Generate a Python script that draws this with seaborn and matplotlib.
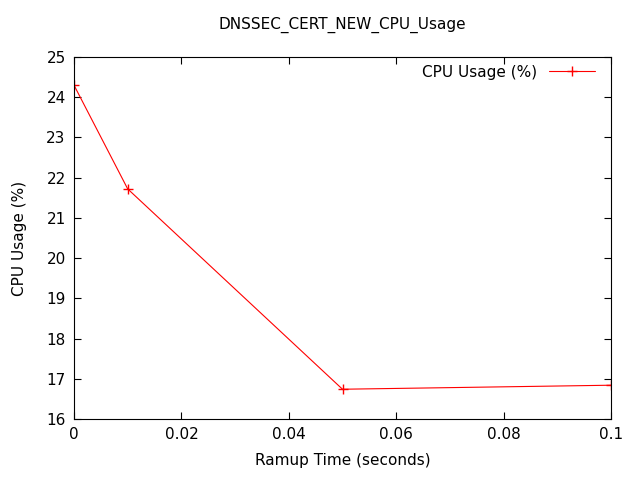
import numpy as np
import pandas as pd
import matplotlib
matplotlib.use('Agg')
import matplotlib.pyplot as plt
import seaborn as sns

ramp_time = [0.0, 0.01, 0.05, 0.1]
cpu_usage = [24.30, 21.72, 16.74, 16.84]

df = pd.DataFrame({'Ramup Time (seconds)': ramp_time, 'CPU Usage (%)': cpu_usage})

sns.set_style('ticks')
plt.rcParams['font.family'] = ['DejaVu Sans']
plt.rcParams['text.color'] = 'black'
plt.rcParams['axes.labelcolor'] = 'black'
plt.rcParams['xtick.color'] = 'black'
plt.rcParams['ytick.color'] = 'black'

fig = plt.figure(figsize=(6.4, 4.8), dpi=100)
ax = fig.add_axes([74 / 640, 1 - 419 / 480, (611 - 74) / 640, (419 - 57) / 480])

sns.lineplot(data=df, x='Ramup Time (seconds)', y='CPU Usage (%)', ax=ax,
             color='red', linewidth=0.8, marker='+', markersize=7,
             markeredgewidth=1, markeredgecolor='red', label='CPU Usage (%)')

ax.set_xlim(0, 0.1)
ax.set_ylim(16, 25)
ax.set_xticks(np.arange(0, 0.101, 0.02))
ax.set_xticklabels(['0', '0.02', '0.04', '0.06', '0.08', '0.1'])
ax.set_yticks(np.arange(16, 26, 1))
ax.tick_params(direction='in', top=True, right=True, labelsize=11, length=5, pad=6)
for s in ax.spines.values():
    s.set_linewidth(0.8)
    s.set_color('black')
ax.set_title('DNSSEC_CERT_NEW_CPU_Usage', fontsize=11, pad=20)
ax.set_xlabel('Ramup Time (seconds)', fontsize=11, labelpad=8)
ax.set_ylabel('CPU Usage (%)', fontsize=11, labelpad=14)
ax.legend(loc='upper right', frameon=False, markerfirst=False, fontsize=11,
          handlelength=3, borderaxespad=0.1, bbox_to_anchor=(0.985, 1.0))

fig.savefig('out.png', dpi=100)
